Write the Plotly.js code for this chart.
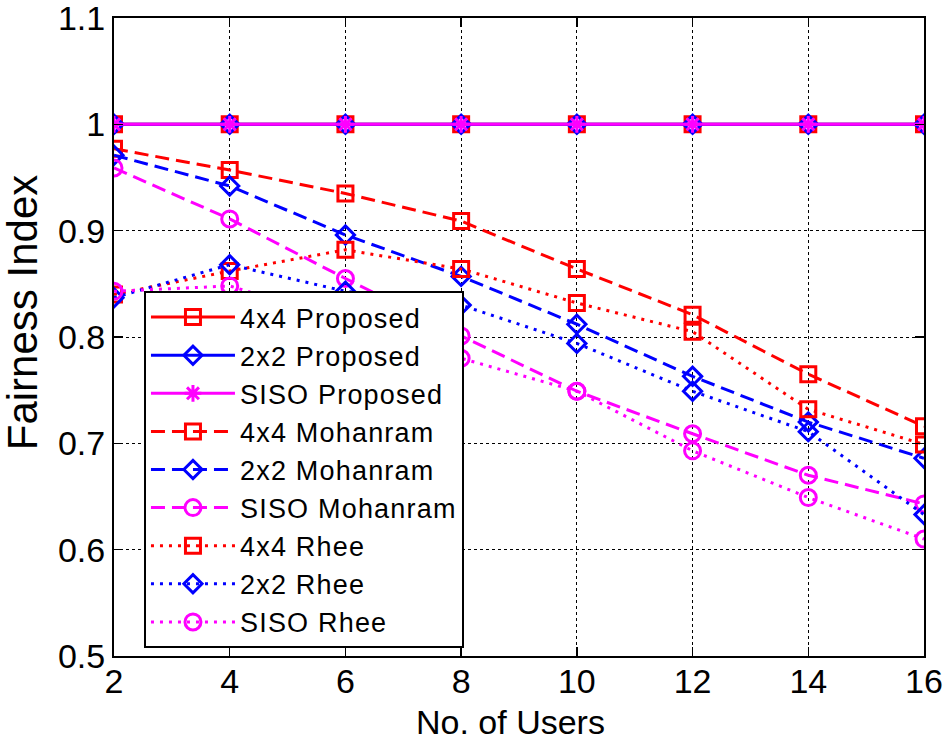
<!DOCTYPE html>
<html>
<head>
<meta charset="utf-8">
<script src="https://cdn.plot.ly/plotly-3.0.1.min.js"></script>
<style>
  html, body { margin: 0; padding: 0; background: #fff; }
  #chart { width: 947px; height: 742px; }
  .legendtext { letter-spacing: 1.2px; }
</style>
</head>
<body>
<div id="chart"></div>
<script>
// Number of users
const users = [2, 4, 6, 8, 10, 12, 14, 16];

// Fairness index for each scheme
const prop4x4 = [1, 1, 1, 1, 1, 1, 1, 1];
const prop2x2 = [1, 1, 1, 1, 1, 1, 1, 1];
const propSISO = [1, 1, 1, 1, 1, 1, 1, 1];
const moh4x4 = [0.977, 0.957, 0.935, 0.909, 0.864, 0.821, 0.765, 0.716];
const moh2x2 = [0.971, 0.942, 0.896, 0.857, 0.812, 0.763, 0.720, 0.686];
const mohSISO = [0.959, 0.911, 0.855, 0.801, 0.749, 0.709, 0.670, 0.643];
const rhee4x4 = [0.840, 0.862, 0.882, 0.864, 0.832, 0.805, 0.732, 0.699];
const rhee2x2 = [0.837, 0.868, 0.843, 0.830, 0.794, 0.749, 0.711, 0.633];
const rheeSISO = [0.843, 0.848, 0.815, 0.780, 0.749, 0.693, 0.649, 0.610];

// Y-axis tick values and labels
const yTicks = [0.5, 0.6, 0.7, 0.8, 0.9, 1.0, 1.1];
const yTickText = ['0.5', '0.6', '0.7', '0.8', '0.9', '1', '1.1'];

const names = ['4x4 Proposed', '2x2 Proposed', 'SISO Proposed',
               '4x4 Mohanram', '2x2 Mohanram', 'SISO Mohanram',
               '4x4 Rhee', '2x2 Rhee', 'SISO Rhee'];

const xTitle = 'No. of Users';
const yTitle = 'Fairness Index';

const RED = '#ff0000', BLUE = '#0000ff', MAG = '#ff00ff';
const FONT = 'Liberation Sans, Arial, sans-serif';
const DASHED = '14px,7px';
const DOTTED = '3px,6px';

function series(name, y, color, dash, symbol, size) {
  return {
    x: users, y: y, name: name, type: 'scatter', mode: 'lines+markers',
    legendgroup: name,
    line: { color: color, width: 3, dash: dash },
    marker: { symbol: symbol, size: size, color: color,
              line: { color: color, width: 3 } }
  };
}

const data = [
  series(names[0], prop4x4, RED, 'solid', 'square-open', 15),
  series(names[1], prop2x2, BLUE, 'solid', 'diamond-open', 14),
  series(names[2], propSISO, MAG, 'solid', 'asterisk-open', 14),
  series(names[3], moh4x4, RED, DASHED, 'square-open', 15),
  series(names[4], moh2x2, BLUE, DASHED, 'diamond-open', 14),
  series(names[5], mohSISO, MAG, DASHED, 'circle-open', 16),
  series(names[6], rhee4x4, RED, DOTTED, 'square-open', 15),
  series(names[7], rhee2x2, BLUE, DOTTED, 'diamond-open', 14),
  series(names[8], rheeSISO, MAG, DOTTED, 'circle-open', 16)
];

const axisCommon = {
  showline: true, linecolor: '#000', linewidth: 2, mirror: 'ticks',
  ticks: 'inside', ticklen: 9, tickwidth: 1.5, tickcolor: '#000',
  showgrid: true, gridcolor: '#000', gridwidth: 1, griddash: 'dot',
  zeroline: false, ticklabeloverflow: 'allow',
  tickfont: { family: FONT, size: 34, color: '#000' }
};

const layout = {
  width: 947, height: 742,
  margin: { l: 114, r: 23, t: 18, b: 86 },
  paper_bgcolor: '#fff', plot_bgcolor: '#fff',
  font: { family: FONT, color: '#000' },
  xaxis: Object.assign({}, axisCommon, {
    range: [2, 16], tickvals: users, ticktext: users.map(String),
    ticklabelstandoff: -6
  }),
  yaxis: Object.assign({}, axisCommon, {
    range: [0.5, 1.1], tickvals: yTicks, ticktext: yTickText
  }),
  annotations: [
    { text: xTitle, xref: 'paper', yref: 'paper', x: 0.49, y: -0.104,
      xanchor: 'center', yanchor: 'middle', showarrow: false,
      font: { family: FONT, size: 34, color: '#000' } },
    { text: yTitle, xref: 'paper', yref: 'paper', x: -0.113, y: 0.538,
      xanchor: 'center', yanchor: 'middle', textangle: -90, showarrow: false,
      font: { family: FONT, size: 42, color: '#000' } }
  ],
  legend: {
    x: 0.037, y: 0.572, xanchor: 'left', yanchor: 'top',
    bgcolor: '#fff', bordercolor: '#000', borderwidth: 2,
    font: { family: FONT, size: 27, color: '#000' },
    traceorder: 'grouped', tracegroupgap: 0,
    itemwidth: 84
  },
  showlegend: true
};

Plotly.newPlot('chart', data, layout, { displayModeBar: false, staticPlot: true });
</script>
</body>
</html>
